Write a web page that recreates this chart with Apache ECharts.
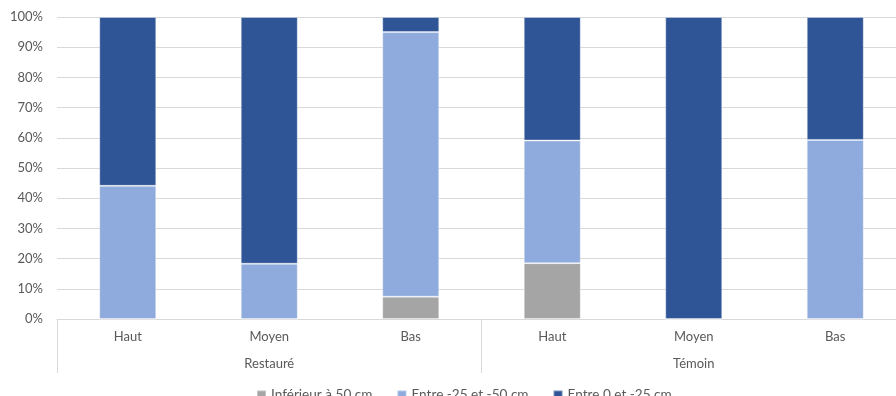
<!DOCTYPE html>
<html>
<head>
<meta charset="utf-8">
<script src="https://cdn.jsdelivr.net/npm/echarts@6/dist/echarts.min.js"></script>
<style>
  html, body { margin: 0; padding: 0; background: #fff; }
  #chart { width: 896px; height: 396px; }
</style>
</head>
<body>
<div id="chart"></div>
<script>
// sous-catégories (position sur la pente) et groupes
const positions = ['Haut', 'Moyen', 'Bas', 'Haut', 'Moyen', 'Bas']
const groups = ['Restauré', 'Témoin']

// part (%) de chaque classe de profondeur
const inferieur50 = [0, 0, 7.4, 18.5, 0, 0]
const entre25et50 = [44.1, 18.3, 87.6, 40.6, 0, 59.3]
const entre0et25 = [55.9, 81.7, 5.0, 40.9, 100, 40.7]

const seriesNames = ['Inférieur à 50 cm', 'Entre -25 et -50 cm', 'Entre 0 et -25 cm']
const yTicks = [0, 10, 20, 30, 40, 50, 60, 70, 80, 90, 100]

const textColor = '#595959'
const lineColor = '#D9D9D9'
const font = 'Lato, "Open Sans", sans-serif'

const chart = echarts.init(document.getElementById('chart'))

function barSeries(name, data, color) {
  return {
    name,
    type: 'bar',
    stack: 'total',
    barWidth: 57,
    data,
    itemStyle: { color, borderColor: 'rgba(255,255,255,0.35)', borderWidth: 1 }
  }
}

chart.setOption({
  animation: false,
  textStyle: { fontFamily: font },
  // la zone de tracé déborde à droite, comme dans l'original (image rognée)
  grid: { left: 57, top: 17, width: 849, height: 302, outerBoundsMode: 'none', containLabel: false },
  legend: {
    data: seriesNames,
    top: 383,
    left: 251,
    itemWidth: 9,
    itemHeight: 9,
    itemGap: 24,
    icon: 'rect',
    textStyle: { color: textColor, fontSize: 13.6, fontFamily: font }
  },
  xAxis: [
    {
      type: 'category',
      data: positions,
      axisLine: { show: true, lineStyle: { color: lineColor, width: 1 } },
      axisTick: { show: false },
      axisLabel: { color: textColor, fontSize: 13, margin: 11, interval: 0 },
      splitLine: { show: false }
    },
    {
      type: 'category',
      data: groups,
      position: 'bottom',
      axisLine: { show: false },
      axisTick: { show: true, length: 54, lineStyle: { color: lineColor } },
      axisLabel: { color: textColor, fontSize: 13, margin: 38 },
      splitLine: { show: false }
    }
  ],
  yAxis: {
    type: 'value',
    min: yTicks[0],
    max: yTicks[yTicks.length - 1],
    interval: 10,
    axisLine: { show: false },
    axisTick: { show: false },
    axisLabel: { color: textColor, fontSize: 13, margin: 14, formatter: '{value}%' },
    splitLine: { lineStyle: { color: lineColor, width: 1 } }
  },
  series: [
    barSeries(seriesNames[0], inferieur50, '#A5A5A5'),
    barSeries(seriesNames[1], entre25et50, '#8FAADC'),
    barSeries(seriesNames[2], entre0et25, '#2F5597')
  ]
})
</script>
</body>
</html>
